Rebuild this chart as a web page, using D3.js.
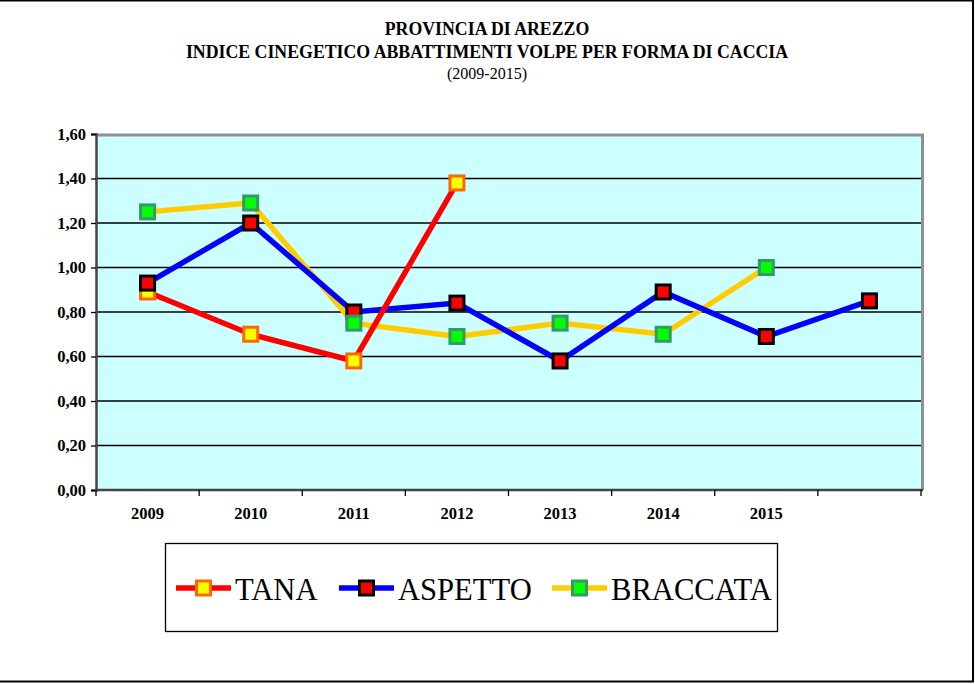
<!DOCTYPE html>
<html>
<head>
<meta charset="utf-8">
<script src="https://cdn.jsdelivr.net/npm/d3@7"></script>
<style>
  body { margin: 0; background: #fff; }
  svg { display: block; font-family: "Liberation Serif", "DejaVu Serif", serif; }
</style>
</head>
<body>
<div id="chart"></div>
<script>
// categories (the last slot has no label in the original)
var years = ["2009", "2010", "2011", "2012", "2013", "2014", "2015", ""];
var tana = [0.89, 0.70, 0.58, 1.38, null, null, null, null];
var aspetto = [0.93, 1.20, 0.80, 0.84, 0.58, 0.89, 0.69, 0.85];
var braccata = [1.25, 1.29, 0.75, 0.69, 0.75, 0.70, 1.00, null];
var yTicks = [0, 0.2, 0.4, 0.6, 0.8, 1.0, 1.2, 1.4, 1.6];
var titleLines = ["PROVINCIA DI AREZZO", "INDICE CINEGETICO ABBATTIMENTI VOLPE PER FORMA DI CACCIA", "(2009-2015)"];

var series = [
  { name: "TANA", values: tana, line: "#ff0000", fill: "#ffff00", stroke: "#ff6600" },
  { name: "ASPETTO", values: aspetto, line: "#0000ff", fill: "#ff0000", stroke: "#000000" },
  { name: "BRACCATA", values: braccata, line: "#ffcc00", fill: "#00ff00", stroke: "#339966" }
];

var areaWidth = 975, areaHeight = 684;
var plot = { left: 96, right: 921, top: 134, bottom: 490 };
var serif = "'Liberation Serif', 'DejaVu Serif', serif";

var itFormat = d3.formatLocale({ decimal: ",", thousands: ".", grouping: [3], currency: ["", "€"] }).format(".2f");

var svg = d3.select("#chart").append("svg")
  .attr("width", areaWidth).attr("height", areaHeight);

// outer frame (no left edge visible in the original)
svg.append("rect")
  .attr("x", -3).attr("y", 0.5)
  .attr("width", 976).attr("height", 681)
  .style("fill", "none").style("stroke", "#000").style("stroke-width", 2);

// title
svg.selectAll("text.title")
  .data(titleLines)
  .enter()
  .append("text")
  .attr("class", "title")
  .attr("x", 487)
  .attr("y", function (d, i) { return [35, 58, 79][i]; })
  .attr("text-anchor", "middle")
  .style("font-size", function (d, i) { return i < 2 ? "17.8px" : "16px"; })
  .style("font-weight", function (d, i) { return i < 2 ? "bold" : "normal"; })
  .style("fill", "#000")
  .text(function (d) { return d; });

var xScale = d3.scaleBand().domain(years).range([plot.left, plot.right]).padding(0);
var yScale = d3.scaleLinear().domain([0, 1.6]).range([plot.bottom, plot.top]);

function cx(i) { return xScale(years[i]) + xScale.bandwidth() / 2; }

// plot background
svg.append("rect")
  .attr("x", plot.left).attr("y", plot.top)
  .attr("width", plot.right - plot.left).attr("height", plot.bottom - plot.top)
  .style("fill", "#ccffff");

// gridlines
svg.selectAll("line.grid")
  .data(yTicks.filter(function (d) { return d > 0 && d < 1.6; }))
  .enter()
  .append("line")
  .attr("x1", plot.left).attr("x2", plot.right)
  .attr("y1", function (d) { return yScale(d); })
  .attr("y2", function (d) { return yScale(d); })
  .style("stroke", "#000").style("stroke-width", 1.3);

// gray top / right border of the plot area
svg.append("path")
  .attr("d", "M" + plot.left + "," + (plot.top + 1) + "H" + (plot.right + 1.5) + "V" + plot.bottom)
  .style("fill", "none").style("stroke", "#909090").style("stroke-width", 3);

// y axis
var yAxis = d3.axisLeft(yScale)
  .tickValues(yTicks)
  .tickSize(5)
  .tickPadding(5)
  .tickFormat(itFormat);
var gy = svg.append("g").attr("transform", "translate(" + plot.left + ",0)").call(yAxis);
gy.select(".domain").style("stroke", "#444").style("stroke-width", 2.5);
gy.selectAll(".tick line").style("stroke", "#000").style("stroke-width", 1.3);
gy.selectAll("text")
  .style("font-family", serif)
  .style("font-size", "16.5px").style("font-weight", "bold").style("fill", "#000");

// x axis: labels at band centres, ticks at band boundaries
var xAxis = d3.axisBottom(xScale).tickSize(0).tickPadding(17);
var gx = svg.append("g").attr("transform", "translate(0," + plot.bottom + ")").call(xAxis);
gx.select(".domain").remove();
gx.selectAll("text")
  .style("font-family", serif)
  .style("font-size", "16.5px").style("font-weight", "bold").style("fill", "#000");

svg.append("line")
  .attr("x1", plot.left - 1).attr("x2", plot.right + 2)
  .attr("y1", plot.bottom).attr("y2", plot.bottom)
  .style("stroke", "#444").style("stroke-width", 2.5);

var bounds = years.map(function (d) { return xScale(d); }).concat([xScale(years[years.length - 1]) + xScale.bandwidth()]);
svg.selectAll("line.xtick")
  .data(bounds)
  .enter()
  .append("line")
  .attr("x1", function (d) { return d; }).attr("x2", function (d) { return d; })
  .attr("y1", plot.bottom).attr("y2", plot.bottom + 6)
  .style("stroke", "#000").style("stroke-width", 1.3);

// lines
var line = d3.line()
  .defined(function (d) { return d != null; })
  .x(function (d, i) { return cx(i); })
  .y(function (d) { return yScale(d); });

var lineOrder = [series[2], series[1], series[0]];
svg.selectAll("path.series")
  .data(lineOrder)
  .enter()
  .append("path")
  .attr("d", function (s) { return line(s.values); })
  .style("fill", "none")
  .style("stroke", function (s) { return s.line; })
  .style("stroke-width", 5.5)
  .style("stroke-linejoin", "miter");

// markers
var mSize = 14;
series.forEach(function (s) {
  svg.selectAll(null)
    .data(s.values.map(function (v, i) { return { v: v, i: i }; }).filter(function (d) { return d.v != null; }))
    .enter()
    .append("rect")
    .attr("x", function (d) { return cx(d.i) - mSize / 2; })
    .attr("y", function (d) { return yScale(d.v) - mSize / 2; })
    .attr("width", mSize).attr("height", mSize)
    .style("fill", s.fill)
    .style("stroke", s.stroke)
    .style("stroke-width", 3);
});

// legend
svg.append("rect")
  .attr("x", 165.5).attr("y", 543.5)
  .attr("width", 612).attr("height", 88)
  .style("fill", "#fff").style("stroke", "#000").style("stroke-width", 1.3);

var legendX = [176, 339, 552];
var legendY = 588;
var lg = svg.selectAll("g.legend")
  .data(series)
  .enter()
  .append("g")
  .attr("transform", function (d, i) { return "translate(" + legendX[i] + "," + legendY + ")"; });

lg.append("line")
  .attr("x1", 0).attr("x2", 55).attr("y1", 0).attr("y2", 0)
  .style("stroke", function (d) { return d.line; })
  .style("stroke-width", 5.5);
lg.append("rect")
  .attr("x", 27.5 - mSize / 2).attr("y", -mSize / 2)
  .attr("width", mSize).attr("height", mSize)
  .style("fill", function (d) { return d.fill; })
  .style("stroke", function (d) { return d.stroke; })
  .style("stroke-width", 3);
lg.append("text")
  .attr("x", 59).attr("y", 12)
  .style("font-size", "30.6px")
  .style("fill", "#000")
  .text(function (d) { return d.name; });
</script>
</body>
</html>
